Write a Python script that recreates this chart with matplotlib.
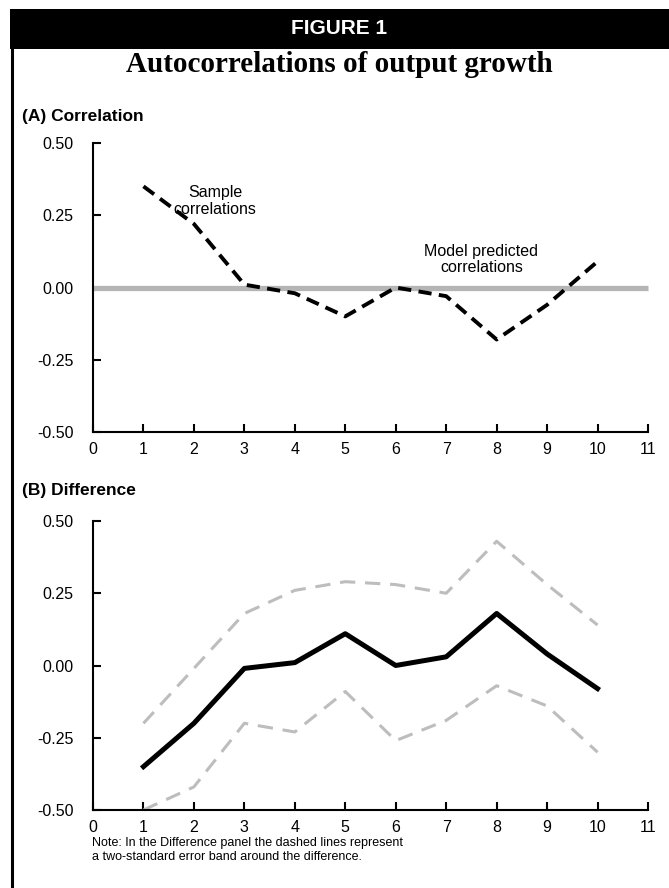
"""
Figure 1: autocorrelations of output growth, sample vs model.
"""

import matplotlib.pyplot as plt
from matplotlib.patches import Rectangle
from matplotlib.lines import Line2D

plt.rcParams['font.family'] = ['Liberation Sans', 'DejaVu Sans']

# lags
lags = [1, 2, 3, 4, 5, 6, 7, 8, 9, 10]

# (A) sample correlations
sample = [0.35, 0.22, 0.01, -0.02, -0.10, 0.00, -0.03, -0.18, -0.06, 0.09]
# model predicted correlations (flat at zero)
model_x = [0, 11]
model = [0.0, 0.0]

# (B) difference and two-standard error band
diff = [-0.35, -0.20, -0.01, 0.01, 0.11, 0.00, 0.03, 0.18, 0.04, -0.08]
upper = [-0.20, -0.01, 0.18, 0.26, 0.29, 0.28, 0.25, 0.43, 0.28, 0.14]
lower = [-0.50, -0.42, -0.20, -0.23, -0.09, -0.26, -0.19, -0.07, -0.14, -0.30]

xticks = list(range(0, 12))
yticks = [-0.5, -0.25, 0.0, 0.25, 0.5]
ylabels = ['-0.50', '-0.25', '0.00', '0.25', '0.50']

W, H = 669, 888
fig = plt.figure(figsize=(W / 100, H / 100), dpi=100)


def px(x, y):
    # pixel position -> figure fraction
    return x / W, 1 - y / H


def style(ax):
    ax.set_xlim(0, 11)
    ax.set_ylim(-0.5, 0.5)
    ax.set_xticks(xticks)
    ax.set_yticks(yticks)
    ax.set_yticklabels(ylabels)
    for s in ['top', 'right']:
        ax.spines[s].set_visible(False)
    for s in ['left', 'bottom']:
        ax.spines[s].set_linewidth(1.5)
    ax.tick_params(direction='in', length=6, width=1.5, labelsize=11.5)
    ax.tick_params(axis='y', pad=14)
    ax.tick_params(axis='x', pad=7)


left, right = 93 / W, 648 / W
axA = fig.add_axes([left, 1 - 432 / H, right - left, 289 / H])
axB = fig.add_axes([left, 1 - 810 / H, right - left, 289 / H])

# panel A
axA.plot(model_x, model, color='#b5b5b5', lw=3.8, solid_capstyle='butt', clip_on=False)
axA.plot(lags, sample, color='black', lw=2.8, dashes=(3.4, 1.9))
axA.text(2.42, 0.30, 'Sample\ncorrelations', ha='center', va='center', fontsize=11.5, linespacing=1.15)
axA.text(7.7, 0.097, 'Model predicted\ncorrelations', ha='center', va='center', fontsize=11.5, linespacing=1.15)
style(axA)

# panel B
axB.plot(lags, upper, color='#bdbdbd', lw=2.2, dashes=(5, 3.2))
axB.plot(lags, lower, color='#bdbdbd', lw=2.2, dashes=(5, 3.2), clip_on=False)
axB.plot(lags, diff, color='black', lw=3.6)
style(axB)

# frame: header bar and left rule
fig.patches.append(Rectangle(px(10, 49), (W - 10) / W, 40 / H, transform=fig.transFigure,
                             facecolor='black', edgecolor='none'))
fig.lines.append(Line2D([11.5 / W, 11.5 / W], [0, 1 - 49 / H], transform=fig.transFigure,
                        color='black', lw=2.2))

fig.text(*px(339, 29), 'FIGURE 1', color='white', fontsize=15, fontweight='heavy',
         ha='center', va='center')
fig.text(*px(339, 64), 'Autocorrelations of output growth', fontsize=21, fontweight='bold',
         family='Liberation Serif', ha='center', va='center')
fig.text(*px(22, 117), '(A) Correlation', fontsize=12.5, fontweight='bold', ha='left', va='center')
fig.text(*px(22, 490), '(B) Difference', fontsize=12.5, fontweight='bold', ha='left', va='center')
fig.text(*px(92, 850), 'Note: In the Difference panel the dashed lines represent\n'
         'a two-standard error band around the difference.', fontsize=9, ha='left', va='center',
         linespacing=1.15)

fig.savefig('out.png', dpi=100)
